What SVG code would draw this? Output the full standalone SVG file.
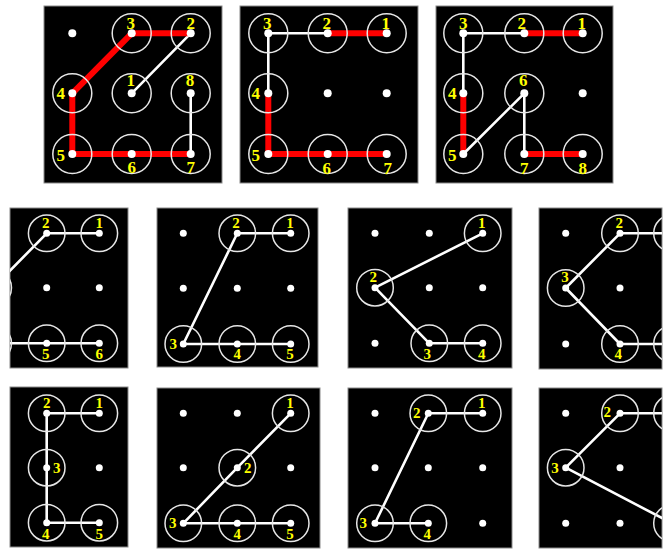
<svg xmlns="http://www.w3.org/2000/svg" width="668" height="549" viewBox="0 0 668 549">
<style>
.bg{fill:#000;stroke:#8a8a8a;stroke-width:1}
.ring{fill:none;stroke:#e6e6e6;stroke-width:1.5}
.dt{fill:#fff}
.w{fill:none;stroke:#fff;stroke-width:2.6;stroke-linecap:round;stroke-linejoin:round}
.r{fill:none;stroke:#f00;stroke-width:6;stroke-linecap:round;stroke-linejoin:round}
.lb{font-family:"Liberation Serif","Times New Roman",serif;font-weight:bold;fill:#ff0;text-anchor:middle}
.big .lb{font-size:17px}
.sm .lb{font-size:15px}
</style>
<defs>
<clipPath id="c-t1"><rect x="44" y="6" width="178" height="177"/></clipPath>
<clipPath id="c-t2"><rect x="240" y="6" width="178" height="177"/></clipPath>
<clipPath id="c-t3"><rect x="436" y="6" width="177" height="177"/></clipPath>
<clipPath id="c-m1"><rect x="10" y="208" width="118" height="160"/></clipPath>
<clipPath id="c-m2"><rect x="157" y="208" width="161" height="159"/></clipPath>
<clipPath id="c-m3"><rect x="348" y="208" width="164" height="160"/></clipPath>
<clipPath id="c-m4"><rect x="539" y="208" width="123" height="161"/></clipPath>
<clipPath id="c-b1"><rect x="10" y="387" width="118" height="160"/></clipPath>
<clipPath id="c-b2"><rect x="157" y="388" width="163" height="160"/></clipPath>
<clipPath id="c-b3"><rect x="348" y="388" width="164" height="160"/></clipPath>
<clipPath id="c-b4"><rect x="539" y="388" width="123" height="160"/></clipPath>
</defs>
<rect width="668" height="549" fill="#fff"/>

<!-- Top panel 1 -->
<g id="t1" class="big">
<rect class="bg" x="44" y="6" width="178" height="177"/>
<g clip-path="url(#c-t1)">
<g id="t1-links">
<line class="w" x1="131.7" y1="93.3" x2="190.7" y2="33.3"/>
<polyline class="r" points="190.7,33.3 131.7,33.3 72.3,93.3 72.3,154 190.7,154"/>
<line class="w" x1="190.7" y1="154" x2="190.7" y2="93.3"/>
</g>
<circle class="dt" cx="72.3" cy="33.3" r="4"/>
<g id="t1-n1"><circle class="dt" cx="131.7" cy="93.3" r="4"/><circle class="ring" cx="131.7" cy="93.3" r="19.5"/><text class="lb" x="130.7" y="86">1</text></g>
<g id="t1-n2"><circle class="dt" cx="190.7" cy="33.3" r="4"/><circle class="ring" cx="190.7" cy="33.3" r="19.5"/><text class="lb" x="190.7" y="29">2</text></g>
<g id="t1-n3"><circle class="dt" cx="131.7" cy="33.3" r="4"/><circle class="ring" cx="131.7" cy="33.3" r="19.5"/><text class="lb" x="130.7" y="29">3</text></g>
<g id="t1-n4"><circle class="dt" cx="72.3" cy="93.3" r="4"/><circle class="ring" cx="72.3" cy="93.3" r="19.5"/><text class="lb" x="60.7" y="99">4</text></g>
<g id="t1-n5"><circle class="dt" cx="72.3" cy="154" r="4"/><circle class="ring" cx="72.3" cy="154" r="19.5"/><text class="lb" x="60.7" y="161">5</text></g>
<g id="t1-n6"><circle class="dt" cx="131.7" cy="154" r="4"/><circle class="ring" cx="131.7" cy="154" r="19.5"/><text class="lb" x="131.7" y="173">6</text></g>
<g id="t1-n7"><circle class="dt" cx="190.7" cy="154" r="4"/><circle class="ring" cx="190.7" cy="154" r="19.5"/><text class="lb" x="190.7" y="173">7</text></g>
<g id="t1-n8"><circle class="dt" cx="190.7" cy="93.3" r="4"/><circle class="ring" cx="190.7" cy="93.3" r="19.5"/><text class="lb" x="190" y="86">8</text></g>
</g>
</g>

<!-- Top panel 2 -->
<g id="t2" class="big">
<rect class="bg" x="240" y="6" width="178" height="177"/>
<g clip-path="url(#c-t2)">
<g id="t2-links">
<line class="r" x1="386.7" y1="33.3" x2="327.7" y2="33.3"/>
<polyline class="w" points="327.7,33.3 268.3,33.3 268.3,93.3"/>
<polyline class="r" points="268.3,93.3 268.3,154 386.7,154"/>
</g>
<circle class="dt" cx="327.7" cy="93.3" r="4"/>
<circle class="dt" cx="386.7" cy="93.3" r="4"/>
<g id="t2-n1"><circle class="dt" cx="386.7" cy="33.3" r="4"/><circle class="ring" cx="386.7" cy="33.3" r="19.5"/><text class="lb" x="385.7" y="29">1</text></g>
<g id="t2-n2"><circle class="dt" cx="327.7" cy="33.3" r="4"/><circle class="ring" cx="327.7" cy="33.3" r="19.5"/><text class="lb" x="326.7" y="29">2</text></g>
<g id="t2-n3"><circle class="dt" cx="268.3" cy="33.3" r="4"/><circle class="ring" cx="268.3" cy="33.3" r="19.5"/><text class="lb" x="267.3" y="29">3</text></g>
<g id="t2-n4"><circle class="dt" cx="268.3" cy="93.3" r="4"/><circle class="ring" cx="268.3" cy="93.3" r="19.5"/><text class="lb" x="255.7" y="99">4</text></g>
<g id="t2-n5"><circle class="dt" cx="268.3" cy="154" r="4"/><circle class="ring" cx="268.3" cy="154" r="19.5"/><text class="lb" x="255.7" y="161">5</text></g>
<g id="t2-n6"><circle class="dt" cx="327.7" cy="154" r="4"/><circle class="ring" cx="327.7" cy="154" r="19.5"/><text class="lb" x="326.7" y="174">6</text></g>
<g id="t2-n7"><circle class="dt" cx="386.7" cy="154" r="4"/><circle class="ring" cx="386.7" cy="154" r="19.5"/><text class="lb" x="387.7" y="174">7</text></g>
</g>
</g>

<!-- Top panel 3 -->
<g id="t3" class="big">
<rect class="bg" x="436" y="6" width="177" height="177"/>
<g clip-path="url(#c-t3)">
<g id="t3-links">
<line class="r" x1="582.7" y1="33.3" x2="524.3" y2="33.3"/>
<polyline class="w" points="524.3,33.3 463.3,33.3 463.3,93.3"/>
<line class="r" x1="463.3" y1="93.3" x2="463.3" y2="154"/>
<polyline class="w" points="463.3,154 524.3,93.3 524.3,154"/>
<line class="r" x1="524.3" y1="154" x2="582.7" y2="154"/>
</g>
<circle class="dt" cx="582.7" cy="93.3" r="4"/>
<g id="t3-n1"><circle class="dt" cx="582.7" cy="33.3" r="4"/><circle class="ring" cx="582.7" cy="33.3" r="19.5"/><text class="lb" x="581.7" y="29">1</text></g>
<g id="t3-n2"><circle class="dt" cx="524.3" cy="33.3" r="4"/><circle class="ring" cx="524.3" cy="33.3" r="19.5"/><text class="lb" x="521.7" y="29">2</text></g>
<g id="t3-n3"><circle class="dt" cx="463.3" cy="33.3" r="4"/><circle class="ring" cx="463.3" cy="33.3" r="19.5"/><text class="lb" x="463.3" y="29">3</text></g>
<g id="t3-n4"><circle class="dt" cx="463.3" cy="93.3" r="4"/><circle class="ring" cx="463.3" cy="93.3" r="19.5"/><text class="lb" x="452.3" y="99">4</text></g>
<g id="t3-n5"><circle class="dt" cx="463.3" cy="154" r="4"/><circle class="ring" cx="463.3" cy="154" r="19.5"/><text class="lb" x="452.3" y="161">5</text></g>
<g id="t3-n6"><circle class="dt" cx="524.3" cy="93.3" r="4"/><circle class="ring" cx="524.3" cy="93.3" r="19.5"/><text class="lb" x="523.3" y="86">6</text></g>
<g id="t3-n7"><circle class="dt" cx="524.3" cy="154" r="4"/><circle class="ring" cx="524.3" cy="154" r="19.5"/><text class="lb" x="524.3" y="174">7</text></g>
<g id="t3-n8"><circle class="dt" cx="582.7" cy="154" r="4"/><circle class="ring" cx="582.7" cy="154" r="19.5"/><text class="lb" x="582.7" y="174">8</text></g>
</g>
</g>

<!-- Middle panel 1 -->
<g id="m1" class="sm">
<rect class="bg" x="10" y="208" width="118" height="160"/>
<g clip-path="url(#c-m1)">
<g id="m1-links">
<polyline class="w" points="99.3,233.3 46.7,233.3 -6.8,287.7"/>
<polyline class="w" points="-6.8,343.3 46.7,343.3 99.3,343.3"/>
</g>
<circle class="dt" cx="46.7" cy="287.7" r="3.5"/>
<circle class="dt" cx="99.3" cy="287.7" r="3.5"/>
<g id="m1-n1"><circle class="dt" cx="99.3" cy="233.3" r="3.5"/><circle class="ring" cx="99.3" cy="233.3" r="18.3"/><text class="lb" x="99.3" y="228.3">1</text></g>
<g id="m1-n2"><circle class="dt" cx="46.7" cy="233.3" r="3.5"/><circle class="ring" cx="46.7" cy="233.3" r="18.3"/><text class="lb" x="45.7" y="228.3">2</text></g>
<g id="m1-n3"><circle class="ring" cx="-6.8" cy="287.7" r="18.3"/></g>
<g id="m1-n4"><circle class="ring" cx="-6.8" cy="343.3" r="18.3"/></g>
<g id="m1-n5"><circle class="dt" cx="46.7" cy="343.3" r="3.5"/><circle class="ring" cx="46.7" cy="343.3" r="18.3"/><text class="lb" x="45.7" y="359">5</text></g>
<g id="m1-n6"><circle class="dt" cx="99.3" cy="343.3" r="3.5"/><circle class="ring" cx="99.3" cy="343.3" r="18.3"/><text class="lb" x="99.3" y="359">6</text></g>
</g>
</g>

<!-- Middle panel 2 -->
<g id="m2" class="sm">
<rect class="bg" x="157" y="208" width="161" height="159"/>
<g clip-path="url(#c-m2)">
<g id="m2-links">
<polyline class="w" points="290.7,233.3 237.3,233.3 183.3,344 237.3,344 290.7,344"/>
</g>
<circle class="dt" cx="183.3" cy="233.3" r="3.5"/>
<circle class="dt" cx="183.3" cy="288.3" r="3.5"/>
<circle class="dt" cx="237.3" cy="288.3" r="3.5"/>
<circle class="dt" cx="290.7" cy="288.3" r="3.5"/>
<g id="m2-n1"><circle class="dt" cx="290.7" cy="233.3" r="3.5"/><circle class="ring" cx="290.7" cy="233.3" r="18.3"/><text class="lb" x="290" y="228.3">1</text></g>
<g id="m2-n2"><circle class="dt" cx="237.3" cy="233.3" r="3.5"/><circle class="ring" cx="237.3" cy="233.3" r="18.3"/><text class="lb" x="236" y="228.3">2</text></g>
<g id="m2-n3"><circle class="dt" cx="183.3" cy="344" r="3.5"/><circle class="ring" cx="183.3" cy="344" r="18.3"/><text class="lb" x="173.3" y="349">3</text></g>
<g id="m2-n4"><circle class="dt" cx="237.3" cy="344" r="3.5"/><circle class="ring" cx="237.3" cy="344" r="18.3"/><text class="lb" x="237.3" y="359">4</text></g>
<g id="m2-n5"><circle class="dt" cx="290.7" cy="344" r="3.5"/><circle class="ring" cx="290.7" cy="344" r="18.3"/><text class="lb" x="290" y="359">5</text></g>
</g>
</g>

<!-- Middle panel 3 -->
<g id="m3" class="sm">
<rect class="bg" x="348" y="208" width="164" height="160"/>
<g clip-path="url(#c-m3)">
<g id="m3-links">
<polyline class="w" points="482.7,233.3 375,287.7 429.3,343.3 482.7,343.3"/>
</g>
<circle class="dt" cx="375" cy="233.3" r="3.5"/>
<circle class="dt" cx="429.3" cy="233.3" r="3.5"/>
<circle class="dt" cx="429.3" cy="287.7" r="3.5"/>
<circle class="dt" cx="482.7" cy="287.7" r="3.5"/>
<circle class="dt" cx="375" cy="343.3" r="3.5"/>
<g id="m3-n1"><circle class="dt" cx="482.7" cy="233.3" r="3.5"/><circle class="ring" cx="482.7" cy="233.3" r="18.3"/><text class="lb" x="481.7" y="228.3">1</text></g>
<g id="m3-n2"><circle class="dt" cx="375" cy="287.7" r="3.5"/><circle class="ring" cx="375" cy="287.7" r="18.3"/><text class="lb" x="373.3" y="282.3">2</text></g>
<g id="m3-n3"><circle class="dt" cx="429.3" cy="343.3" r="3.5"/><circle class="ring" cx="429.3" cy="343.3" r="18.3"/><text class="lb" x="427.3" y="359">3</text></g>
<g id="m3-n4"><circle class="dt" cx="482.7" cy="343.3" r="3.5"/><circle class="ring" cx="482.7" cy="343.3" r="18.3"/><text class="lb" x="481.7" y="359">4</text></g>
</g>
</g>

<!-- Middle panel 4 -->
<g id="m4" class="sm">
<rect class="bg" x="539" y="208" width="123" height="161"/>
<g clip-path="url(#c-m4)">
<g id="m4-links">
<polyline class="w" points="672,233.3 620,233.3 565.7,288 620,344 672,344"/>
</g>
<circle class="dt" cx="565.7" cy="233.3" r="3.5"/>
<circle class="dt" cx="620" cy="288" r="3.5"/>
<circle class="dt" cx="565.7" cy="344" r="3.5"/>
<g id="m4-n1"><circle class="ring" cx="672" cy="233.3" r="18.3"/></g>
<g id="m4-n2"><circle class="dt" cx="620" cy="233.3" r="3.5"/><circle class="ring" cx="620" cy="233.3" r="18.3"/><text class="lb" x="619.3" y="228.3">2</text></g>
<g id="m4-n3"><circle class="dt" cx="565.7" cy="288" r="3.5"/><circle class="ring" cx="565.7" cy="288" r="18.3"/><text class="lb" x="565" y="282.3">3</text></g>
<g id="m4-n4"><circle class="dt" cx="620" cy="344" r="3.5"/><circle class="ring" cx="620" cy="344" r="18.3"/><text class="lb" x="618.3" y="359">4</text></g>
<g id="m4-n5"><circle class="ring" cx="672" cy="344" r="18.3"/></g>
</g>
</g>

<!-- Bottom panel 1 -->
<g id="b1" class="sm">
<rect class="bg" x="10" y="387" width="118" height="160"/>
<g clip-path="url(#c-b1)">
<g id="b1-links">
<polyline class="w" points="99.3,413.3 46.7,413.3 46.7,467.7 46.7,522.7 99.3,522.7"/>
</g>
<circle class="dt" cx="99.3" cy="467.7" r="3.5"/>
<g id="b1-n1"><circle class="dt" cx="99.3" cy="413.3" r="3.5"/><circle class="ring" cx="99.3" cy="413.3" r="18.3"/><text class="lb" x="99.3" y="408.3">1</text></g>
<g id="b1-n2"><circle class="dt" cx="46.7" cy="413.3" r="3.5"/><circle class="ring" cx="46.7" cy="413.3" r="18.3"/><text class="lb" x="46.7" y="408.3">2</text></g>
<g id="b1-n3"><circle class="dt" cx="46.7" cy="467.7" r="3.5"/><circle class="ring" cx="46.7" cy="467.7" r="18.3"/><text class="lb" x="56.7" y="472.7">3</text></g>
<g id="b1-n4"><circle class="dt" cx="46.7" cy="522.7" r="3.5"/><circle class="ring" cx="46.7" cy="522.7" r="18.3"/><text class="lb" x="45.7" y="539">4</text></g>
<g id="b1-n5"><circle class="dt" cx="99.3" cy="522.7" r="3.5"/><circle class="ring" cx="99.3" cy="522.7" r="18.3"/><text class="lb" x="99.3" y="539">5</text></g>
</g>
</g>

<!-- Bottom panel 2 -->
<g id="b2" class="sm">
<rect class="bg" x="157" y="388" width="163" height="160"/>
<g clip-path="url(#c-b2)">
<g id="b2-links">
<polyline class="w" points="290.7,413.3 237.3,467.7 183.3,523.3 237.3,523.3 290.7,523.3"/>
</g>
<circle class="dt" cx="183.3" cy="413.3" r="3.5"/>
<circle class="dt" cx="237.3" cy="413.3" r="3.5"/>
<circle class="dt" cx="183.3" cy="467.7" r="3.5"/>
<circle class="dt" cx="290.7" cy="467.7" r="3.5"/>
<g id="b2-n1"><circle class="dt" cx="290.7" cy="413.3" r="3.5"/><circle class="ring" cx="290.7" cy="413.3" r="18.3"/><text class="lb" x="290" y="408.3">1</text></g>
<g id="b2-n2"><circle class="dt" cx="237.3" cy="467.7" r="3.5"/><circle class="ring" cx="237.3" cy="467.7" r="18.3"/><text class="lb" x="247.7" y="472.7">2</text></g>
<g id="b2-n3"><circle class="dt" cx="183.3" cy="523.3" r="3.5"/><circle class="ring" cx="183.3" cy="523.3" r="18.3"/><text class="lb" x="172.7" y="528.3">3</text></g>
<g id="b2-n4"><circle class="dt" cx="237.3" cy="523.3" r="3.5"/><circle class="ring" cx="237.3" cy="523.3" r="18.3"/><text class="lb" x="237.3" y="539">4</text></g>
<g id="b2-n5"><circle class="dt" cx="290.7" cy="523.3" r="3.5"/><circle class="ring" cx="290.7" cy="523.3" r="18.3"/><text class="lb" x="290" y="539">5</text></g>
</g>
</g>

<!-- Bottom panel 3 -->
<g id="b3" class="sm">
<rect class="bg" x="348" y="388" width="164" height="160"/>
<g clip-path="url(#c-b3)">
<g id="b3-links">
<polyline class="w" points="482.7,413.3 428.3,413.3 375,523.3 428.3,523.3"/>
</g>
<circle class="dt" cx="375" cy="413.3" r="3.5"/>
<circle class="dt" cx="375" cy="467.7" r="3.5"/>
<circle class="dt" cx="428.3" cy="467.7" r="3.5"/>
<circle class="dt" cx="482.7" cy="467.7" r="3.5"/>
<circle class="dt" cx="482.7" cy="523.3" r="3.5"/>
<g id="b3-n1"><circle class="dt" cx="482.7" cy="413.3" r="3.5"/><circle class="ring" cx="482.7" cy="413.3" r="18.3"/><text class="lb" x="481.7" y="408.3">1</text></g>
<g id="b3-n2"><circle class="dt" cx="428.3" cy="413.3" r="3.5"/><circle class="ring" cx="428.3" cy="413.3" r="18.3"/><text class="lb" x="416.7" y="418.3">2</text></g>
<g id="b3-n3"><circle class="dt" cx="375" cy="523.3" r="3.5"/><circle class="ring" cx="375" cy="523.3" r="18.3"/><text class="lb" x="363.3" y="528.3">3</text></g>
<g id="b3-n4"><circle class="dt" cx="428.3" cy="523.3" r="3.5"/><circle class="ring" cx="428.3" cy="523.3" r="18.3"/><text class="lb" x="427.3" y="539">4</text></g>
</g>
</g>

<!-- Bottom panel 4 -->
<g id="b4" class="sm">
<rect class="bg" x="539" y="388" width="123" height="160"/>
<g clip-path="url(#c-b4)">
<g id="b4-links">
<polyline class="w" points="672,413.3 620,413.3 565.7,467.7 672,523.3"/>
</g>
<circle class="dt" cx="565.7" cy="413.3" r="3.5"/>
<circle class="dt" cx="620" cy="467.7" r="3.5"/>
<circle class="dt" cx="565.7" cy="523.3" r="3.5"/>
<circle class="dt" cx="620" cy="523.3" r="3.5"/>
<g id="b4-n1"><circle class="ring" cx="672" cy="413.3" r="18.3"/></g>
<g id="b4-n2"><circle class="dt" cx="620" cy="413.3" r="3.5"/><circle class="ring" cx="620" cy="413.3" r="18.3"/><text class="lb" x="607.3" y="417.3">2</text></g>
<g id="b4-n3"><circle class="dt" cx="565.7" cy="467.7" r="3.5"/><circle class="ring" cx="565.7" cy="467.7" r="18.3"/><text class="lb" x="555" y="472.7">3</text></g>
<g id="b4-n4"><circle class="ring" cx="672" cy="523.3" r="18.3"/></g>
</g>
</g>
</svg>
